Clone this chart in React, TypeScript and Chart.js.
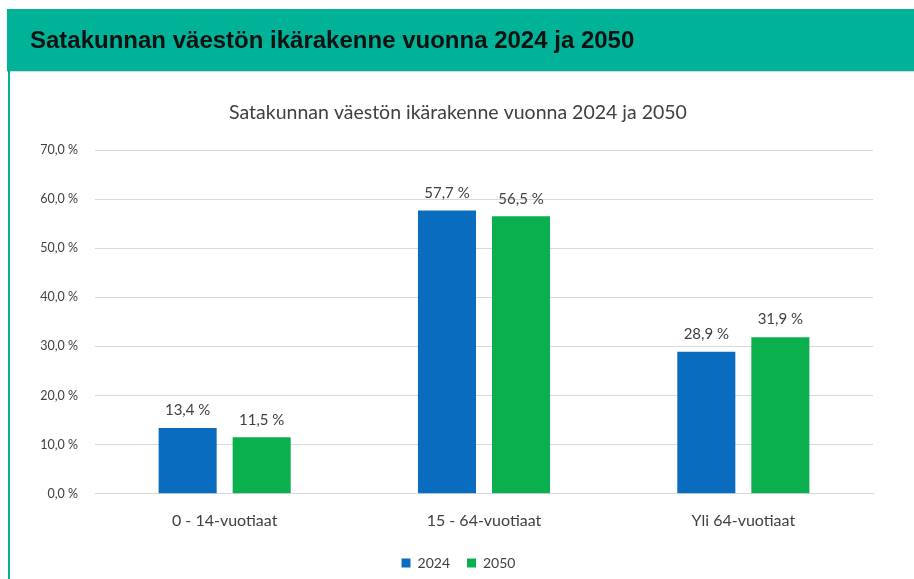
import React, { useEffect, useRef } from "react";
import { Chart, registerables } from "chart.js";

Chart.register(...registerables);

const categories = ["0 - 14-vuotiaat", "15 - 64-vuotiaat", "Yli 64-vuotiaat"];
const values2024 = [13.4, 57.7, 28.9];
const values2050 = [11.5, 56.5, 31.9];
const seriesNames = ["2024", "2050"];
const headerTitle = "Satakunnan väestön ikärakenne vuonna 2024 ja 2050";
const chartTitle = "Satakunnan väestön ikärakenne vuonna 2024 ja 2050";

const fmt = (v: number) => v.toFixed(1).replace(".", ",") + " %";

const FONT = "Lato, 'Open Sans', sans-serif";
const TEXT = "#404040";

const dataLabels = {
  id: "dataLabels",
  afterDatasetsDraw(chart: any) {
    const ctx = chart.ctx;
    ctx.save();
    ctx.font = `15px ${FONT}`;
    ctx.fillStyle = TEXT;
    ctx.textAlign = "center";
    ctx.textBaseline = "bottom";
    chart.data.datasets.forEach((ds: any, i: number) => {
      const meta = chart.getDatasetMeta(i);
      meta.data.forEach((bar: any, j: number) => {
        ctx.fillText(fmt(ds.data[j]), bar.x, bar.y - 10);
      });
    });
    ctx.restore();
  },
};

const chartTitlePlugin = {
  id: "chartTitleText",
  afterLayout(chart: any) {
    if (chart.legend) {
      chart.legend.left += 12;
      chart.legend.right += 12;
    }
  },
  afterDraw(chart: any) {
    const ctx = chart.ctx;
    ctx.save();
    ctx.font = `19.5px ${FONT}`;
    ctx.fillStyle = TEXT;
    ctx.textAlign = "center";
    ctx.textBaseline = "middle";
    ctx.fillText(chartTitle, 458, 113);
    ctx.restore();
  },
};

export default function App() {
  const ref = useRef<HTMLCanvasElement>(null);
  useEffect(() => {
    if (!ref.current) return;
    const chart = new Chart(ref.current, {
      type: "bar",
      data: {
        labels: categories,
        datasets: [
          { label: seriesNames[0], data: values2024, backgroundColor: "#0a6cbf", categoryPercentage: 0.571, barPercentage: 0.784 },
          { label: seriesNames[1], data: values2050, backgroundColor: "#0bb04e", categoryPercentage: 0.571, barPercentage: 0.784 },
        ],
      },
      options: {
        responsive: false,
        animation: false,
        layout: { padding: { left: 20, right: 41, top: 150, bottom: -1 } },
        plugins: {
          title: { display: false },
          legend: {
            position: "bottom",
            labels: {
              color: TEXT,
              font: { family: FONT, size: 14 },
              boxWidth: 9,
              boxHeight: 9,
              padding: 17,
            },
          },
          tooltip: { enabled: false },
        },
        scales: {
          x: {
            grid: { display: false },
            border: { color: "#d9d9d9" },
            ticks: { color: TEXT, font: { family: FONT, size: 16 }, padding: 9 },
          },
          y: {
            min: 0,
            max: 70,
            afterFit: (s: any) => { s.width = 75; },
            grid: { color: "#d9d9d9", drawTicks: false },
            border: { display: false },
            ticks: {
              stepSize: 10,
              padding: 17,
              color: TEXT,
              font: { family: FONT, size: 12.5 },
              callback: (v: any) => fmt(Number(v)),
            },
          },
        },
      },
      plugins: [dataLabels, chartTitlePlugin],
    });
    return () => chart.destroy();
  }, []);

  return (
    <div style={{ position: "fixed", left: 0, top: 0, width: 914, height: 579, background: "#fff", overflow: "hidden" }}>
      <canvas ref={ref} width={914} height={579} style={{ position: "absolute", left: 0, top: 0 }} />
      <div style={{ position: "absolute", left: 8, top: 70, width: 2, height: 509, background: "#00b398" }} />
      <div
        style={{
          position: "absolute",
          left: 7,
          top: 9,
          width: 907,
          height: 62,
          background: "#00b398",
          boxShadow: "0 1px 1px rgba(0,0,0,0.15)",
          display: "flex",
          alignItems: "center",
          paddingLeft: 23,
          boxSizing: "border-box",
          fontFamily: "'Liberation Sans', Arial, sans-serif",
          fontWeight: "bold",
          fontSize: 24,
          color: "#111",
        }}
      >
        {headerTitle}
      </div>
    </div>
  );
}
